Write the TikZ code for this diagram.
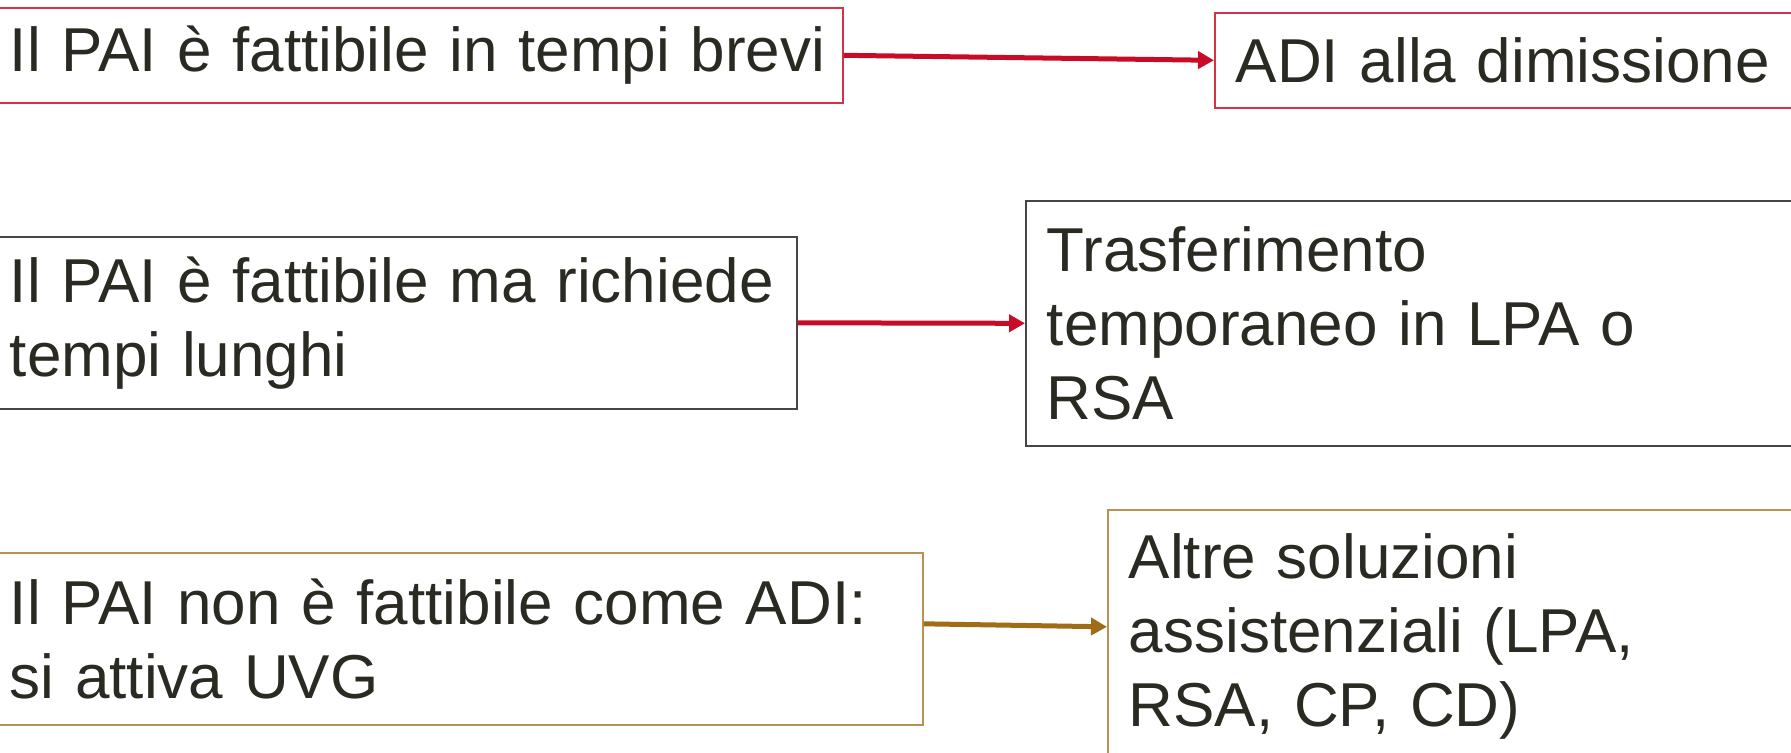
\documentclass[tikz,border=0pt]{standalone}
\usepackage{fontspec}
\setmainfont{Liberation Sans}
\usetikzlibrary{arrows.meta}

\definecolor{testo}{RGB}{42,42,34}
\definecolor{rossofreccia}{RGB}{200,12,40}
\definecolor{rossobordo}{RGB}{212,50,70}
\definecolor{grigiobordo}{RGB}{70,70,70}
\definecolor{orofreccia}{RGB}{160,108,22}
\definecolor{orobordo}{RGB}{184,145,84}

\begin{document}
\begin{tikzpicture}[x=0.5pt, y=-0.5pt]

% Overall frame of the slide
\useasboundingbox (0,0) rectangle (1791,752);

% Define styles for boxes and arrows
\tikzstyle{casella} = [rectangle, line width=0.8pt, align=left, inner xsep=10.5pt, inner ysep=0pt,
	text=testo, font=\fontsize{31}{37}\selectfont, anchor=north west]
\tikzstyle{freccia} = [line width=2.5pt, -{Triangle[length=8pt, width=8.5pt]}]

% Left column: situations
\node[casella, draw=rossobordo, text width=406pt, minimum height=47.5pt] (brevi) at (-12,7)
	{\mbox{Il PAI è fattibile in tempi brevi}};
\node[casella, draw=grigiobordo, text width=383pt, minimum height=86pt] (lunghi) at (-12,236)
	{Il PAI è fattibile ma richiede\\tempi lunghi};
\node[casella, draw=orobordo, text width=446pt, minimum height=86pt] (uvg) at (-12,552)
	{Il PAI non è fattibile come ADI:\\si attiva UVG};

% Right column: outcomes
\node[casella, draw=rossobordo, text width=300pt, minimum height=47.5pt] (adi) at (1214,12)
	{ADI alla dimissione};
\node[casella, draw=grigiobordo, text width=400pt, minimum height=122.5pt] (lpa) at (1025,200)
	{Trasferimento\\temporaneo in LPA o\\RSA};
\node[casella, draw=orobordo, text width=360pt, minimum height=127pt] (altre) at (1107,509)
	{Altre soluzioni\\assistenziali (LPA,\\RSA, CP, CD)};

% Arrows
\draw[freccia, rossofreccia] (brevi.east) -- (adi.west);
\draw[freccia, rossofreccia] (lunghi.east) -- (lpa.west);
\draw[freccia, orofreccia] ([yshift=7.5pt]uvg.east) -- ([yshift=5pt]altre.west);

\end{tikzpicture}
\end{document}
